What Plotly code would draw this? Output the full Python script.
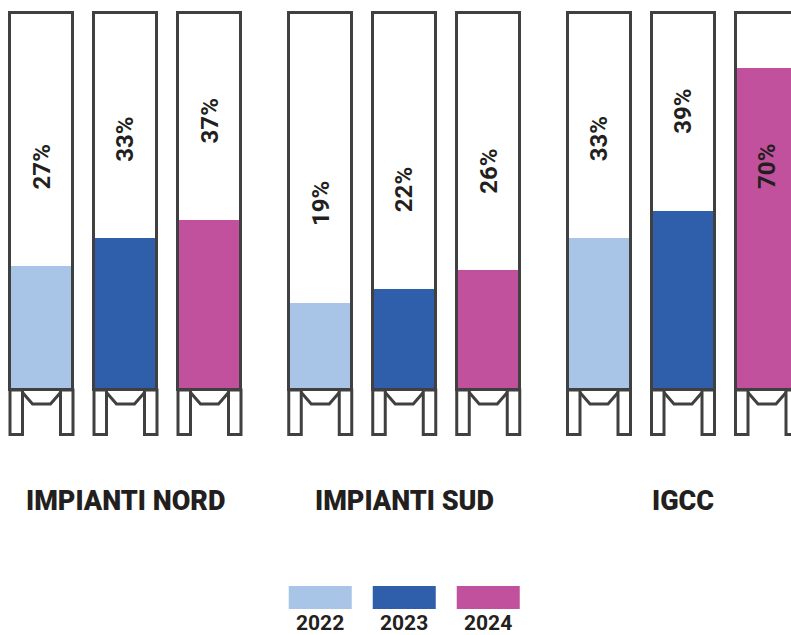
import plotly.graph_objects as go

# ---- data ----
groups = ["IMPIANTI NORD", "IMPIANTI SUD", "IGCC"]
years = ["2022", "2023", "2024"]
values_2022 = [27, 19, 33]
values_2023 = [33, 22, 39]
values_2024 = [37, 26, 70]
series = [values_2022, values_2023, values_2024]
colors = ["#a8c4e6", "#2f5eaa", "#c1509d"]

# ---- geometry (pixels -> axis units) ----
W, H = 791, 635
GROUP_PX = 278.75          # pixel distance between group centres
BAR_STEP_PX = 84.0         # distance between bars inside a group
BAR_W_PX = 63.0
X0_PX = 125.5              # pixel x of first group centre
Y0_PX = 390.0              # pixel y of value 0 (silo floor)
PX_PER_UNIT = 4.6          # pixels per percentage point
SILO_TOP = (Y0_PX - 13) / PX_PER_UNIT

def xu(px):  # pixel width -> x units
    return px / GROUP_PX

def yu(px):  # pixel height -> y units
    return px / PX_PER_UNIT

x_range = [-X0_PX / GROUP_PX, (W - X0_PX) / GROUP_PX]
y_range = [-(H - Y0_PX) / PX_PER_UNIT, Y0_PX / PX_PER_UNIT]

OUTLINE = "#404040"
TEXT = "#231f20"
FONT = "Roboto"

fig = go.Figure()

bar_w = xu(BAR_W_PX)
for k, (yr, vals, col) in enumerate(zip(years, series, colors)):
    xs = [g + (k - 1) * xu(BAR_STEP_PX) for g in range(len(groups))]
    # fill level
    fig.add_trace(go.Bar(x=xs, y=vals, width=bar_w, marker=dict(color=col, line=dict(width=0)),
                         name=yr, showlegend=False, hoverinfo="skip"))
    # silo outline
    fig.add_trace(go.Bar(x=xs, y=[SILO_TOP] * len(xs), width=bar_w,
                         marker=dict(color="rgba(0,0,0,0)", line=dict(color=OUTLINE, width=3)),
                         showlegend=False, hoverinfo="skip"))
    for xc, v in zip(xs, vals):
        off = 21.5
        ylab = v + off if v + off + 6 <= SILO_TOP else v - off
        fig.add_annotation(x=xc, y=ylab, xref="x", yref="y", text=f"{v}%", textangle=-90,
                           xanchor="center", yanchor="middle",
                           showarrow=False, font=dict(family=FONT, size=24, color=TEXT, weight="bold"))
        # legs and hopper
        xl = xc - bar_w / 2
        xr = xc + bar_w / 2
        leg_w = xu(12.5)
        leg_b = -yu(44.5)
        shp = dict(type="path", xref="x", yref="y", line=dict(color=OUTLINE, width=3),
                   fillcolor="white", layer="above")
        fig.add_shape(path=f"M {xl},0 L {xl},{leg_b} L {xl+leg_w},{leg_b} L {xl+leg_w},0 Z", **shp)
        fig.add_shape(path=f"M {xr-leg_w},0 L {xr-leg_w},{leg_b} L {xr},{leg_b} L {xr},0 Z", **shp)
        fig.add_shape(path=(f"M {xl+leg_w},{-yu(2.5)} L {xl+xu(22.5)},{-yu(14)} "
                            f"L {xr-xu(22.5)},{-yu(14)} L {xr-leg_w},{-yu(2.5)}"),
                      type="path", xref="x", yref="y", line=dict(color=OUTLINE, width=3), layer="above")

# group labels
for g, name in enumerate(groups):
    fig.add_annotation(x=g, y=1 - 501 / H, xref="x", yref="paper", text=name, showarrow=False,
                       xanchor="center", yanchor="middle",
                       font=dict(family=FONT, size=27, color=TEXT, weight=900))

# custom legend under the middle group
for k, (yr, col) in enumerate(zip(years, colors)):
    xc = 1 + (k - 1) * xu(BAR_STEP_PX)
    fig.add_shape(type="rect", xref="x", yref="paper", x0=xc - bar_w / 2, x1=xc + bar_w / 2,
                  y0=1 - 609 / H, y1=1 - 586 / H, fillcolor=col, line=dict(width=0))
    fig.add_annotation(x=xc, y=1 - 623 / H, xref="x", yref="paper", text=yr, showarrow=False,
                       xanchor="center", yanchor="middle",
                       font=dict(family=FONT, size=21, color=TEXT, weight="bold"))

fig.update_layout(
    width=W, height=H, margin=dict(l=0, r=0, t=0, b=0),
    barmode="overlay", bargap=0,
    plot_bgcolor="white", paper_bgcolor="white", showlegend=False,
    xaxis=dict(range=x_range, visible=False, fixedrange=True),
    yaxis=dict(range=y_range, visible=False, fixedrange=True),
)
fig.write_html("out.html", config={"displayModeBar": False},
               post_script="document.body.style.margin='0';document.body.style.overflow='hidden';")
